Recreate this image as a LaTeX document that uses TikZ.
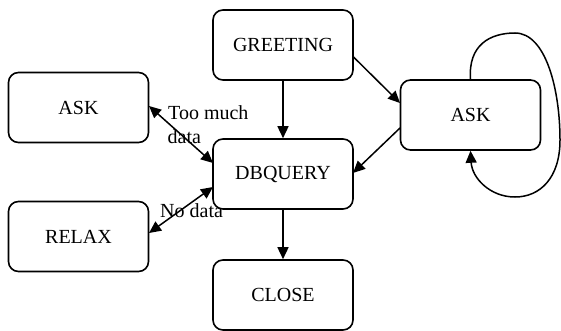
\documentclass[tikz,border=0pt]{standalone}
\usepackage{fontspec}
\setmainfont{Liberation Serif}
\usetikzlibrary{arrows.meta}
\begin{document}
\begin{tikzpicture}[x=1pt,y=-1pt,
 state/.style={draw, line width=1.6pt, rounded corners=10pt, minimum width=140pt, minimum height=70pt, font=\fontsize{20}{23}\selectfont, inner sep=0pt},
 conn/.style={line width=1.5pt, -{Triangle[length=12pt,width=11pt]}},
 both/.style={line width=1.5pt, {Triangle[length=12pt,width=11pt]}-{Triangle[length=12pt,width=11pt]}},
 lbl/.style={font=\fontsize{20}{23}\selectfont, inner sep=0pt, align=left}]
\useasboundingbox (0,0) rectangle (561,331);
\node[state] (greet) at (283,45) {GREETING};
\node[state] (ask1) at (78.5,107.5) {ASK};
\node[state] (db) at (283,174) {DBQUERY};
\node[state] (relax) at (78.5,236.5) {RELAX};
\node[state] (close) at (283,295) {CLOSE};
\node[state] (ask2) at (470.5,115) {ASK};
\coordinate (g1) at (353.5,57);
\coordinate (a2in) at (400,103);
\coordinate (a2out) at (400,128);
\coordinate (dbr) at (353,173);
\coordinate (a1) at (149,106);
\coordinate (dbl1) at (213,163);
\coordinate (r1) at (149,233);
\coordinate (dbl2) at (213,187);
\draw[conn] (greet) -- (db);
\draw[conn] (db) -- (close);
\draw[conn] (g1) -- (a2in);
\draw[conn] (a2out) -- (dbr);
\draw[both] (a1) -- (dbl1);
\draw[both] (r1) -- (dbl2);
\draw[conn] (ask2.north) .. controls (468,45) and (490,33) .. (515,33) .. controls (546,33) and (560,90) .. (560,140) .. controls (560,178) and (540,197) .. (515,197) .. controls (490,197) and (472,178) .. (ask2.south);
\node[lbl, anchor=base west] (t1) at (168,120) {Too much};
\node[lbl, anchor=base west] (t2) at (167.5,143) {data};
\node[lbl, anchor=base west] (t3) at (160,217) {No data};
\end{tikzpicture}
\end{document}
